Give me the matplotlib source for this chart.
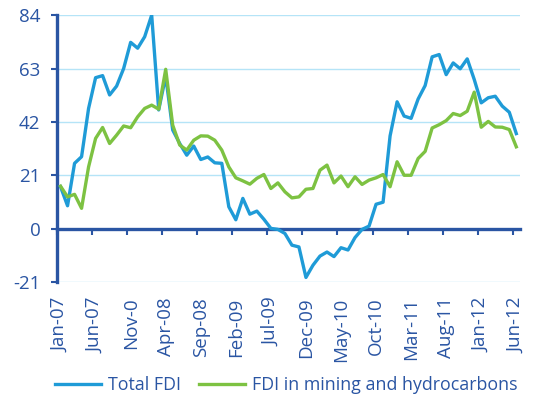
import matplotlib.pyplot as plt
import numpy as np

plt.rcParams['font.family'] = ['Open Sans', 'DejaVu Sans']
plt.rcParams['axes.unicode_minus'] = False

# monthly values, Jan-07 .. Jun-12
total_fdi = [16.5, 9, 25.7, 28.3, 47.3, 59.4, 60.2, 52.6, 56.1, 63, 73.3, 71, 75.5, 84,
             46.7, 60, 38.8, 33.5, 28.9, 32.5, 27.2, 28.2, 25.9, 25.7, 8.6, 3.5,
             11.9, 5.7, 6.9, 3.7, 0.1, -0.3, -1.9, -6.5, -7.2, -19.2, -14.4, -10.8,
             -9.2, -11, -7.5, -8.4, -3.5, -0.3, 1, 9.6, 10.4, 36.5, 49.9, 44.3,
             43.4, 51, 56.3, 67.6, 68.5, 60.6, 65.2, 62.9, 66.8, 58.7, 49.5, 51.5,
             52.1, 48.2, 45.8, 37.4]
mining_fdi = [16.7, 12.5, 13.5, 8, 24.3, 35.5, 39.8, 33.5, 36.8, 40.4, 39.7, 44, 47.3, 48.6,
              47, 62.7, 40.7, 32.9, 30.9, 34.8, 36.5, 36.4, 34.8, 30.9, 24.3, 20,
              18.8, 17.5, 19.8, 21.3, 15.8, 18, 14.5, 12.1, 12.5, 15.5, 15.8, 23,
              25, 18, 20.7, 16.5, 20.4, 17.4, 19.1, 20, 21.3, 16.5, 26.3, 21,
              21, 27.6, 30.4, 39.6, 40.9, 42.5, 45.3, 44.5, 46.2, 53.7, 39.9, 42.2,
              40, 39.9, 39, 32.2]
x_labels = ['Jan-07', 'Jun-07', 'Nov-0', 'Apr-08', 'Sep-08', 'Feb-09', 'Jul-09',
            'Dec-09', 'May-10', 'Oct-10', 'Mar-11', 'Aug-11', 'Jan-12', 'Jun-12']
y_ticks = [-21, 0, 21, 42, 63, 84]

dark = '#2a55a3'
blue = '#1f9bd7'
green = '#7dc242'
grid = '#b5e4f7'

fig = plt.figure(figsize=(5.4, 4.03), dpi=100)
ax = fig.add_axes([0.1056, 0.3002, 0.857, 0.6622])

months = np.arange(len(total_fdi))
ax.plot(months, total_fdi, color=blue, lw=2.4, label='Total FDI', zorder=3)
ax.plot(months, mining_fdi, color=green, lw=2.4, label='FDI in mining and hydrocarbons', zorder=3)

ax.set_xlim(-0.5, len(months) - 0.5)
ax.set_ylim(-21, 84)
ax.set_yticks(y_ticks)
for y in y_ticks:
    if y != 0:
        ax.axhline(y, color=grid, lw=1, zorder=1)

for s in ['top', 'right']:
    ax.spines[s].set_visible(False)
ax.spines['left'].set_color(dark)
ax.spines['left'].set_linewidth(2.4)
ax.spines['bottom'].set_position(('data', 0))
ax.spines['bottom'].set_color(dark)
ax.spines['bottom'].set_linewidth(2.4)
ax.spines['bottom'].set_zorder(2)

label_pos = months[::5]
ax.set_xticks(label_pos - 0.5)
ax.tick_params(axis='x', direction='out', length=4, width=1.5, color=dark, labelbottom=False)
ax.tick_params(axis='y', direction='out', length=4, width=1.5, color=dark,
               labelcolor=dark, labelsize=13.5, pad=8)

sec = ax.secondary_xaxis(0)
sec.set_xticks(label_pos)
sec.set_xticklabels(x_labels, rotation=90, color=dark, fontsize=13.5)
sec.tick_params(length=0, pad=11)
sec.spines['bottom'].set_visible(False)

fig.legend(loc='lower center', bbox_to_anchor=(0.53, -0.018), ncol=2, frameon=False,
           fontsize=12.8, labelcolor=dark, handlelength=2.6, columnspacing=1.0,
           handletextpad=0.4)

fig.savefig('out.png', dpi=100)
